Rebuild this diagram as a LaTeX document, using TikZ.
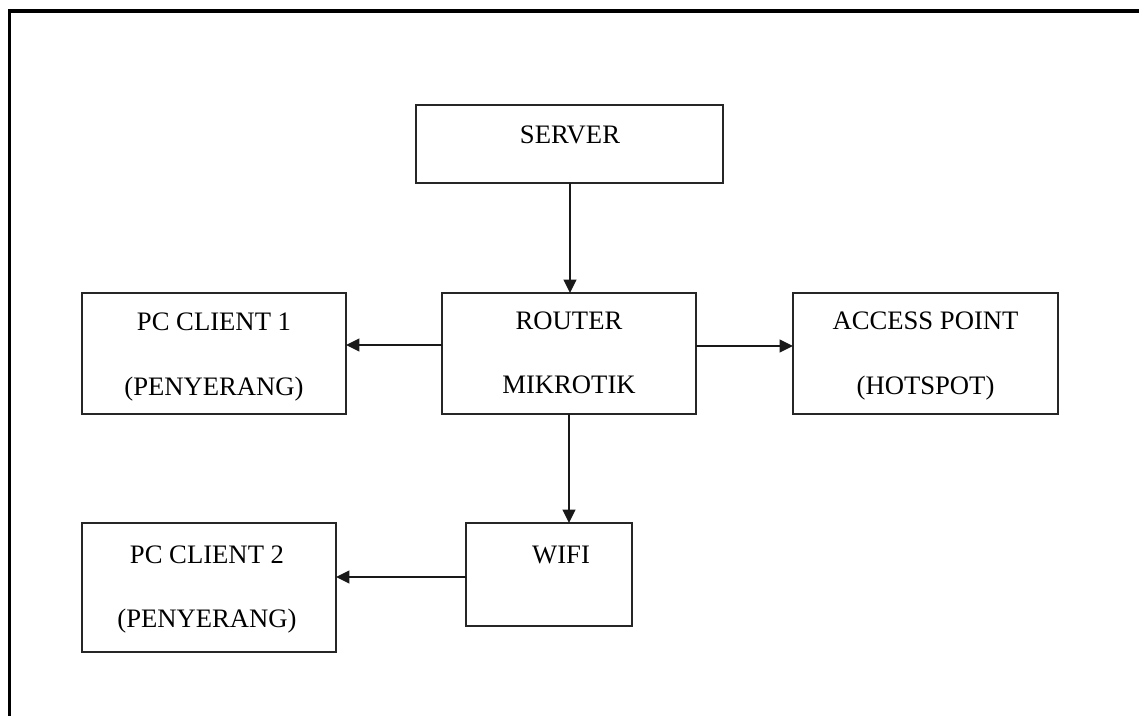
\documentclass[tikz,border=0pt]{standalone}
\usepackage{fontspec}
\setmainfont{Liberation Serif}
\usetikzlibrary{arrows.meta}
\begin{document}
\begin{tikzpicture}[x=0.75pt,y=-0.75pt,
  blk/.style={draw=black!85, line width=1.5pt, inner sep=0pt, outer sep=0pt, anchor=north west},
  lbl/.style={anchor=base, inner sep=0pt, font=\fontsize{20}{24}\selectfont},
  conn/.style={draw=black!90, line width=1.4pt, -{Triangle[length=10pt,width=9.5pt]}}]
\useasboundingbox (0,0) rectangle (1139,715);
% outer frame (only top and left edges visible)
\draw[line width=2.4pt] (9.5,730) -- (9.5,11) -- (1160,11);
% boxes
\node[blk, minimum width=307*0.75pt, minimum height=78*0.75pt] (server) at (416,105) {};
\node[blk, minimum width=254*0.75pt, minimum height=121*0.75pt] (router) at (442,293) {};
\node[blk, minimum width=264*0.75pt, minimum height=121*0.75pt] (pc1) at (82,293) {};
\node[blk, minimum width=265*0.75pt, minimum height=121*0.75pt] (ap) at (793,293) {};
\node[blk, minimum width=166*0.75pt, minimum height=103*0.75pt] (wifi) at (466,523) {};
\node[blk, minimum width=254*0.75pt, minimum height=129*0.75pt] (pc2) at (82,523) {};
% labels
\node[lbl] (serverT) at (570,143) {SERVER};
\node[lbl] (routerT1) at (569,329) {ROUTER};
\node[lbl] (routerT2) at (569,393) {MIKROTIK};
\node[lbl] (pc1T1) at (214,330) {PC CLIENT 1};
\node[lbl] (pc1T2) at (214,395) {(PENYERANG)};
\node[lbl] (apT1) at (925.5,329) {ACCESS POINT};
\node[lbl] (apT2) at (925.5,394) {(HOTSPOT)};
\node[lbl] (wifiT) at (561,563) {WIFI};
\node[lbl] (pc2T1) at (207,563) {PC CLIENT 2};
\node[lbl] (pc2T2) at (207,627) {(PENYERANG)};
% connectors
\draw[conn] ([xshift=0.5*0.75pt]server.south) -- ([xshift=0.5*0.75pt]server.south |- router.north);
\draw[conn] ([yshift=-52*0.75pt]router.north west) -- ([yshift=-52*0.75pt]pc1.north east);
\draw[conn] ([yshift=-53*0.75pt]router.north east) -- ([yshift=-53*0.75pt]ap.north west);
\draw[conn] ([xshift=127*0.75pt]router.south west) -- ([xshift=127*0.75pt]router.south west |- wifi.north);
\draw[conn] ([yshift=-54*0.75pt]wifi.north west) -- ([yshift=-54*0.75pt]pc2.north east);
\end{tikzpicture}
\end{document}
